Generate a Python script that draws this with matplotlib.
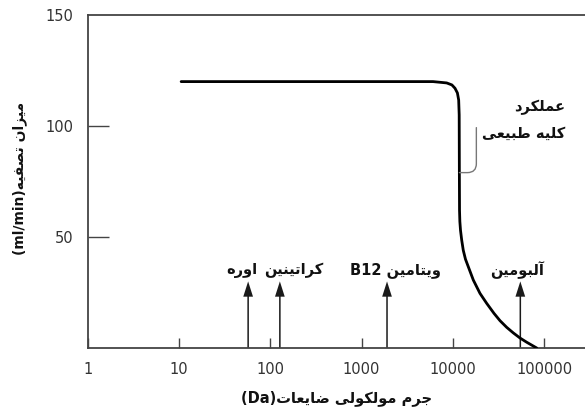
import matplotlib
matplotlib.use("Agg")
import matplotlib.pyplot as plt
import numpy as np

# ---------------- data ----------------
mass = [10.5, 1000, 6070, 8570, 9780, 10570, 11230, 11600, 11750, 11800,
        11850, 11950, 12150, 12520, 13030, 13770, 14790, 16790, 19870, 23540,
        28300, 32940, 39000, 46060, 54560, 64600, 73300, 83200]
clearance = [120, 120, 120, 119.4, 118.5, 117, 114.9, 111.7, 105, 80,
             62, 57, 53, 48.6, 44, 40, 36.6, 30.6, 24.6, 20.1,
             15.6, 12.3, 9.3, 6.8, 4.5, 2.6, 1.3, 0]

solute_names = ["اوره", "کراتینین", "ویتامین", "آلبومین"]
solute_suffix = ["", "", "B12", ""]
solute_mass = [57, 127, 1900, 55000]
arrow_top = 30

xticks = [1, 10, 100, 1000, 10000, 100000]
xticklabels = ["1", "10", "100", "1000", "10000", "100000"]
yticks = [50, 100, 150]
yticklabels = ["50", "100", "150"]

xlabel_txt = "جرم مولکولی ضایعات"
xlabel_unit = "(Da)"
ylabel_txt = "میزان تصفیه"
ylabel_unit = "(ml/min)"
note_line1 = "عملکرد"
note_line2 = "کلیه طبیعی"

# ------------- minimal Arabic/Persian shaping -------------
FORMS = {
    'ا': ('\uFE8D', '\uFE8E', None, None),
    'آ': ('\uFE81', '\uFE82', None, None),
    'ب': ('\uFE8F', '\uFE90', '\uFE91', '\uFE92'),
    'ت': ('\uFE95', '\uFE96', '\uFE97', '\uFE98'),
    'ج': ('\uFE9D', '\uFE9E', '\uFE9F', '\uFEA0'),
    'د': ('\uFEA9', '\uFEAA', None, None),
    'ر': ('\uFEAD', '\uFEAE', None, None),
    'ز': ('\uFEAF', '\uFEB0', None, None),
    'ص': ('\uFEB9', '\uFEBA', '\uFEBB', '\uFEBC'),
    'ض': ('\uFEBD', '\uFEBE', '\uFEBF', '\uFEC0'),
    'ط': ('\uFEC1', '\uFEC2', '\uFEC3', '\uFEC4'),
    'ع': ('\uFEC9', '\uFECA', '\uFECB', '\uFECC'),
    'ف': ('\uFED1', '\uFED2', '\uFED3', '\uFED4'),
    'ل': ('\uFEDD', '\uFEDE', '\uFEDF', '\uFEE0'),
    'م': ('\uFEE1', '\uFEE2', '\uFEE3', '\uFEE4'),
    'ن': ('\uFEE5', '\uFEE6', '\uFEE7', '\uFEE8'),
    'ه': ('\uFEE9', '\uFEEA', '\uFEEB', '\uFEEC'),
    'و': ('\uFEED', '\uFEEE', None, None),
    'ک': ('\uFB8E', '\uFB8F', '\uFB90', '\uFB91'),
    'ی': ('\uFBFC', '\uFBFD', '\uFBFE', '\uFBFF'),
}
RIGHT_ONLY = set('اآدذرزژو')


def rtl(s):
    out = []
    n = len(s)
    for i, c in enumerate(s):
        if c not in FORMS:
            out.append(c)
            continue
        prev = s[i - 1] if i > 0 else None
        nxt = s[i + 1] if i < n - 1 else None
        jp = prev in FORMS and prev not in RIGHT_ONLY
        jn = nxt in FORMS and c not in RIGHT_ONLY
        iso, fin, ini, med = FORMS[c]
        if jp and jn:
            g = med
        elif jp:
            g = fin
        elif jn:
            g = ini
        else:
            g = iso
        out.append(g)
    return ''.join(reversed(out))


# ---------------- figure ----------------
W, H = 585, 413
fig = plt.figure(figsize=(W / 100, H / 100), dpi=100)
ax = fig.add_axes([88 / W, 65 / H, 1 - 88 / W, 333 / H])

ax.set_xscale('log')
xmax = 10 ** ((W - 88) / 91.2)
ax.set_xlim(1, xmax)
ax.set_ylim(0, 150)

ax.plot(mass, clearance, color='black', lw=2.0, solid_capstyle='round',
        solid_joinstyle='round', zorder=3)

# solute arrows + labels
label_dx = [-6, 14, 8, -3]
for name, suf, m, dx in zip(solute_names, solute_suffix, solute_mass, label_dx):
    ax.annotate('', xy=(m, arrow_top), xytext=(m, 0),
                arrowprops=dict(facecolor='#1a1a1a', edgecolor='none',
                                width=1.1, headwidth=7, headlength=11, shrink=0),
                zorder=2, annotation_clip=False)
    txt = (suf + ' ' + rtl(name)) if suf else rtl(name)
    ax.annotate(txt, xy=(m, 35), xytext=(dx, 0), textcoords='offset pixels',
                ha='center', va='center', fontsize=10.5, fontweight='bold',
                color='#111111')

# normal-function annotation
fig.text(565 / W, 1 - 107 / H, rtl(note_line1), ha='right', va='center',
         fontsize=10.5, fontweight='bold', color='#111111')
fig.text(565 / W, 1 - 133 / H, rtl(note_line2), ha='right', va='center',
         fontsize=10.5, fontweight='bold', color='#111111')
ax.annotate('', xy=(11800, 79), xytext=(17, 45), textcoords='offset pixels',
            arrowprops=dict(arrowstyle='-', color='#777777', lw=1.0,
                            shrinkA=0, shrinkB=0,
                            connectionstyle='angle,angleA=90,angleB=0,rad=9'))

# axes styling
ax.spines['right'].set_visible(False)
for s in ['left', 'top', 'bottom']:
    ax.spines[s].set_color('#444444')
    ax.spines[s].set_linewidth(1.3)

ax.set_xticks(xticks)
ax.set_xticklabels(xticklabels)
ax.xaxis.set_minor_locator(matplotlib.ticker.NullLocator())
ax.set_yticks(yticks)
ax.set_yticklabels(yticklabels)
ax.tick_params(axis='x', direction='in', length=7, width=1, colors='#444444',
               labelsize=10.5, labelcolor='#333333', pad=10)
ax.tick_params(axis='y', direction='in', length=15, width=1, colors='#444444',
               labelsize=10.5, labelcolor='#333333', pad=10.5)
ax.yaxis.get_major_ticks()[-1].tick1line.set_visible(False)

ax.set_xlabel(xlabel_unit + rtl(xlabel_txt), fontsize=10.5, fontweight='bold',
              color='#111111')
ax.xaxis.set_label_coords(0.5, -0.125)
fig.text(20 / W, 1 - 178 / H, ylabel_unit + rtl(ylabel_txt), rotation=90,
         ha='center', va='center', fontsize=10, fontweight='bold',
         color='#111111')

fig.savefig('out.png', dpi=100)
